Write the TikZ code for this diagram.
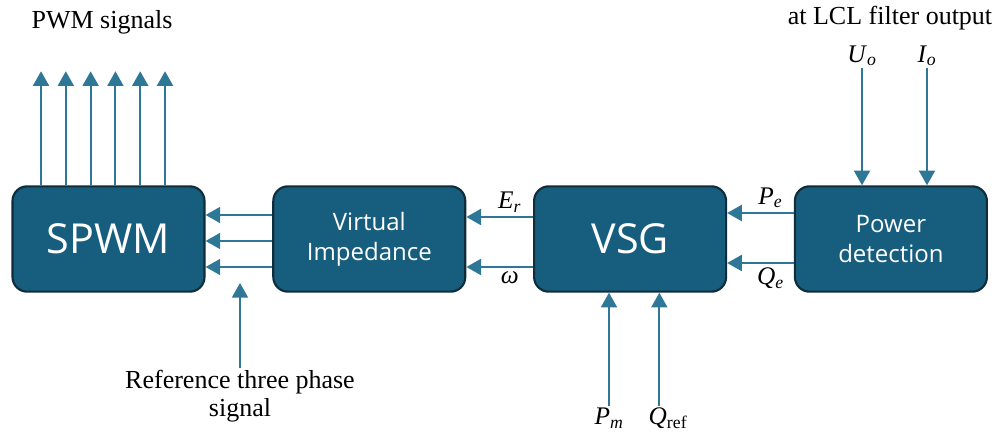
\documentclass[tikz,border=0pt]{standalone}
\usepackage{fontspec}
\setmainfont{Liberation Serif}
\newfontfamily\boxfont{Open Sans}
\usetikzlibrary{positioning,arrows.meta}
\definecolor{boxblue}{HTML}{175E7E}
\definecolor{boxedge}{HTML}{0F2D3B}
\definecolor{linkblue}{HTML}{2F7797}
\newcommand{\sig}[2]{\textit{#1}\textsubscript{#2}}
\tikzset{
block/.style={rectangle, rounded corners=11pt, minimum width=144pt, minimum height=79pt, text centered, align=center, draw=boxedge, line width=1.6pt, fill=boxblue, text=white, font=\boxfont\fontsize{18}{22.5}\selectfont},
bigblock/.style={block, font=\boxfont\fontsize{31}{36}\selectfont},
arrow/.style={line width=1.5pt, draw=linkblue, fill=linkblue, -{Triangle[width=12pt,length=11pt]}},
lbl/.style={font=\fontsize{19.5}{21}\selectfont, inner sep=1pt},
mlbl/.style={font=\fontsize{19}{22}\selectfont, inner sep=1pt}}

\begin{document}
\begin{tikzpicture}[x=0.75pt, y=-0.75pt]
\useasboundingbox (0,0) rectangle (1001,435);
\node (spwm) [bigblock] at (108.5,239) {SPWM};
\node (vimp) [block, right=50pt of spwm] {Virtual\\Impedance};
\node (vsg) [bigblock, right=50pt of vimp] {VSG};
\node (power) [block, right=50pt of vsg] {Power\\detection};

\node (pwmsig) [lbl] at (102,22) {PWM signals};
\node (lcl) [lbl] at (890,18) {at LCL filter output};
\node (uo) [mlbl] at (862,56) {\sig{U}{\textit{o}}};
\node (io) [mlbl] at (927,56) {\sig{I}{\textit{o}}};
\node (pm) [mlbl] at (609,418) {\sig{P}{\textit{m}}};
\node (qref) [mlbl] at (668,418) {\sig{Q}{ref}};
\node (ref) [lbl, align=center] at (240,396) {Reference three phase\\signal};
\coordinate (refin) at (240,283);
\coordinate (qin) at ([xshift=-6.5pt]qref.north);

\foreach \i [evaluate=\i as \dx using -50.6+18.6*\i] in {0,...,5} {
  \coordinate (pwm\i) at ([xshift=\dx pt, yshift=85.5pt]spwm.north);
  \draw [arrow] (pwm\i |- spwm.north) -- (pwm\i);
}
\foreach \dy in {18,-1.5,-21}
  \draw [arrow] ([yshift=\dy pt]vimp.west) -- ([yshift=\dy pt]spwm.east);

\draw [arrow] ([yshift=16.5pt]vsg.west) -- node [mlbl, above=2pt, pos=0.35] {\sig{E}{\textit{r}}} ([yshift=16.5pt]vimp.east);
\draw [arrow] ([yshift=-21pt]vsg.west) -- node [mlbl, below=2pt, pos=0.35] {\textit{ω}} ([yshift=-21pt]vimp.east);
\draw [arrow] ([yshift=19.5pt]power.west) -- node [mlbl, above=2pt, pos=0.35] {\sig{P}{\textit{e}}} ([yshift=19.5pt]vsg.east);
\draw [arrow] ([yshift=-18pt]power.west) -- node [mlbl, below=2pt, pos=0.35] {\sig{Q}{\textit{e}}} ([yshift=-18pt]vsg.east);

\draw [arrow] (uo) -- (uo |- power.north);
\draw [arrow] (io) -- (io |- power.north);
\draw [arrow] (pm) -- (pm |- vsg.south);
\draw [arrow] (qin) -- (qin |- vsg.south);
\draw [arrow] (ref) -- (refin);
\end{tikzpicture}
\end{document}
